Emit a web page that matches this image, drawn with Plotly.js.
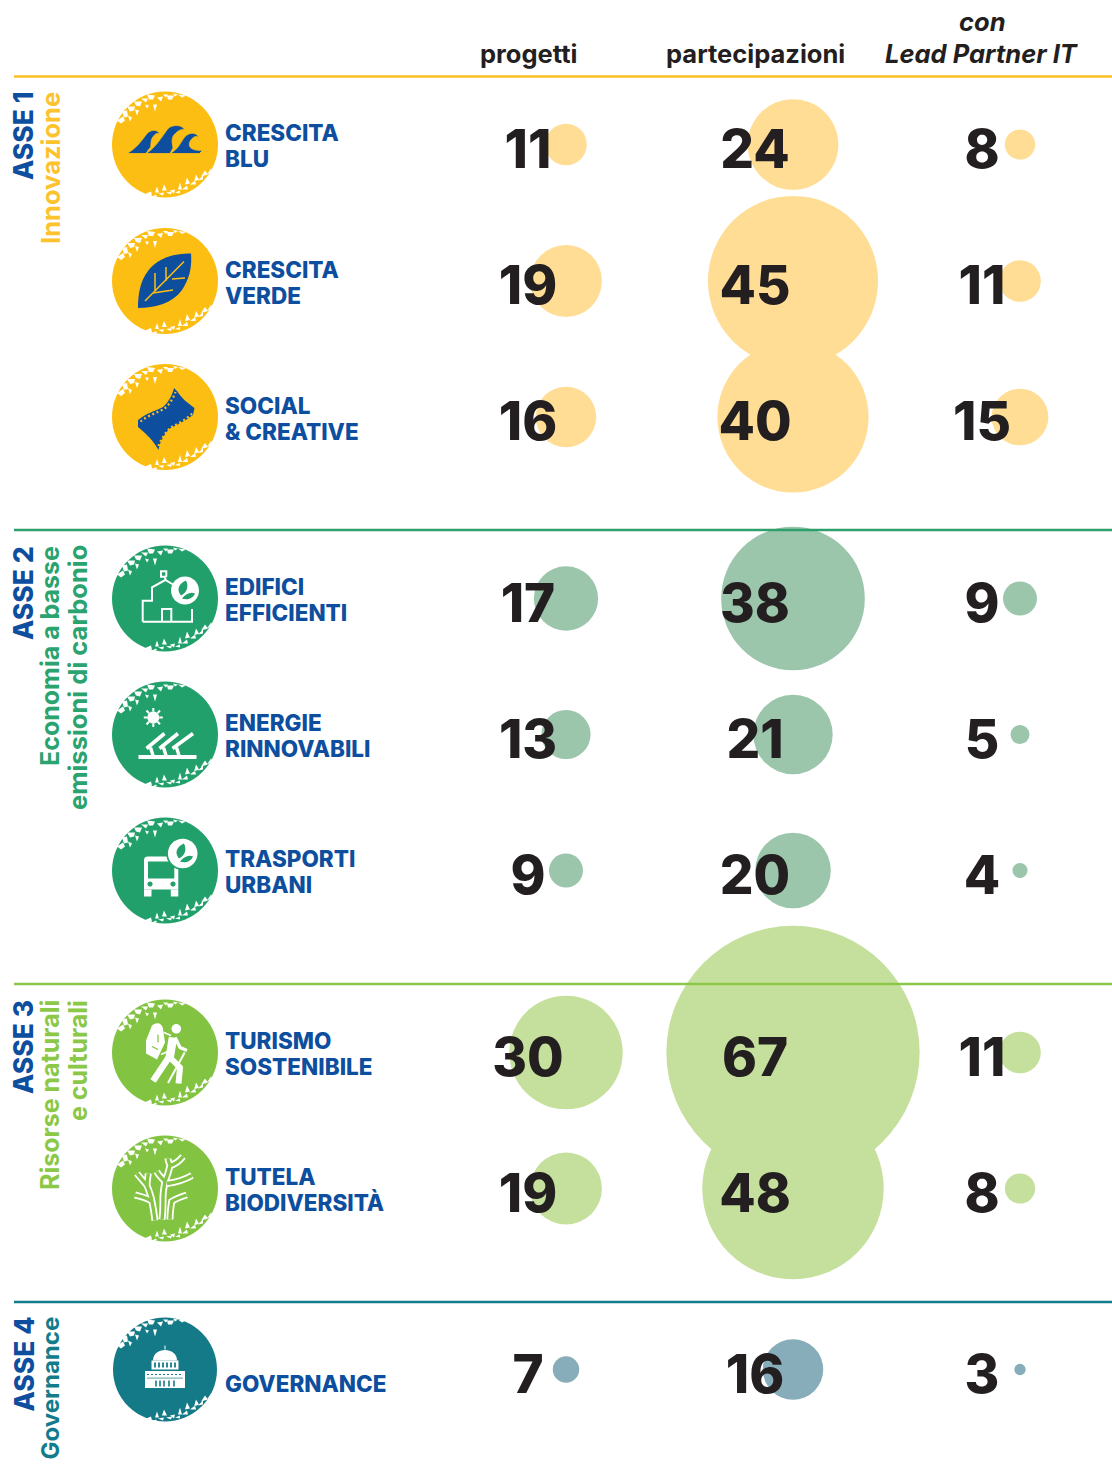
<!DOCTYPE html>
<html><head><meta charset="utf-8">
<script src="https://cdn.plot.ly/plotly-3.0.1.min.js"></script>
<style>html,body{margin:0;padding:0;background:#fff}#c{width:1112px;height:1464px}</style>
</head><body><div id="c"></div>
<script>
// ---- data
const categories = ["CRESCITA BLU","CRESCITA VERDE","SOCIAL & CREATIVE","EDIFICI EFFICIENTI","ENERGIE RINNOVABILI","TRASPORTI URBANI","TURISMO SOSTENIBILE","TUTELA BIODIVERSITÀ","GOVERNANCE"];
const labelLine1 = ["CRESCITA","CRESCITA","SOCIAL","EDIFICI","ENERGIE","TRASPORTI","TURISMO","TUTELA",""];
const labelLine2 = ["BLU","VERDE","& CREATIVE","EFFICIENTI","RINNOVABILI","URBANI","SOSTENIBILE","BIODIVERSITÀ","GOVERNANCE"];
const progetti = [11,19,16,17,13,9,30,19,7];
const partecipazioni = [24,45,40,38,21,20,67,48,16];
const leadPartner = [8,11,15,9,5,4,11,8,3];
const assi = [0,0,0,1,1,1,2,2,3];
const columnTitles = ["progetti","partecipazioni","Lead Partner IT"];

// ---- layout constants
const rowY = [144.5,281,417,598.5,734.5,870.5,1052.5,1188.5,1369.5];
const bubbleX = [566,793,1020];
const numberX = [528,755,982];
const PX_PER_UNIT = 3.78;
const iconCol = ["#FDBE14","#22A06B","#82C341","#157A87"];
const bubbleCol = ["#FFDD95","#9CC6AB","#C5E09C","#88ADBA"];
const lineCol = ["#FFC226","#2FA06C","#8CC847","#137C8B"];
const subCol = ["#FDC32F","#2AA36F","#8CC847","#137C8B"];
const BLUE = "#0E4E9E", INK = "#231F20", FONT = "Inter, 'Noto Sans', sans-serif";

// ---- helpers
const place = (cx,cy,p) => p.replace(/(-?[\d.]+)\s+(-?[\d.]+)/g,(m,a,b)=>(+a+cx).toFixed(2)+" "+(+b+cy).toFixed(2));
const disc = (x,y,r)=>{const k=r*0.5523;return `M${x-r} ${y} C${x-r} ${y-k} ${x-k} ${y-r} ${x} ${y-r} C${x+k} ${y-r} ${x+r} ${y-k} ${x+r} ${y} C${x+r} ${y+k} ${x+k} ${y+r} ${x} ${y+r} C${x-k} ${y+r} ${x-r} ${y+k} ${x-r} ${y} Z`;};
const box = (a,b,c,d)=>`M${a} ${b} L${c} ${b} L${c} ${d} L${a} ${d} Z`;
const badgeLeaves = (x,y)=>`M${x-3} ${y+5} C${x-8} ${y-1} ${x-5} ${y-7} ${x+2} ${y-10} C${x+5} ${y-4} ${x+3} ${y+2} ${x-3} ${y+5} Z M${x-2} ${y+8} C${x+2} ${y+3} ${x+7} ${y+1} ${x+11} ${y+3} C${x+9} ${y+8} ${x+3} ${y+10} ${x-2} ${y+8} Z`;
const fill=(path,c)=>({path,fill:c});
const stroke=(path,c,w,dash)=>({path,stroke:c,w,dash});
const Y=iconCol[0],G=iconCol[1],L=iconCol[2],T=iconCol[3],W="#ffffff";

// worn-paint flecks along the rim of each icon disc
const flecks = ["M-48 -24 L-42 -28 L-40 -24 L-44 -21 Z","M-43 -33 L-38 -34 L-37 -28 L-41 -27 Z","M-37 -29 L-33 -27 L-35 -23 Z","M-38 -38 L-30 -38 L-31 -34 L-35 -33 Z","M-30 -35 L-26 -34 L-28 -29 Z",
 "M-31 -43 L-23 -43 L-25 -38 L-29 -39 Z","M-24 -46 L-17 -46 L-19 -42 Z","M-20 -40 L-16 -39 L-18 -36 Z","M-18 -50 L-10 -49 L-12 -45 L-16 -45 Z","M-12 -40 L-8 -40 L-10 -33 Z",
 "M-8 -47 L-2 -48 L-4 -43 Z","M-2 -50 L3 -50 L1 -47 Z","M2 -49 L9 -49 L7 -45 L3 -45 Z","M8 -51 L13 -50 L10 -48 Z","M13 -50 L21 -49 L17 -47 Z",
 "M-21 50 L-14 47 L-13 51 L-19 52 Z","M-15 53 L-9 50 L-8 52 Z","M-10 48 L-8 42 L-6 48 Z","M-7 49 L-1 48 L-2 51 Z","M-3 46 L-1 40 L2 46 Z","M1 48 L7 47 L6 50 Z","M5 46 L10 45 L9 49 Z","M10 48 L15 46 L15 49 Z",
 "M13 45 L15 38 L17 45 Z","M17 45 L22 41 L23 45 Z","M20 40 L22 33 L25 39 Z","M25 40 L30 36 L31 40 Z","M29 37 L31 30 L34 35 Z","M33 36 L38 31 L38 35 Z","M36 32 L40 26 L43 30 Z","M42 30 L46 24 L48 27 Z"];
const shardPath = flecks.join(" ");

const wave=(lx,tx,ty,px,py,hx,hy,bx)=>`M${lx} 9 C${lx+9} 4 ${tx-13} ${ty+12} ${tx-7} ${ty+4} C${tx-3} ${ty} ${px-3} ${py-6} ${px} ${py} C${px-3} ${py-2} ${hx+3} ${hy-5} ${hx} ${hy} C${hx-2} ${hy+5} ${hx} ${hy+9} ${bx+3} ${(hy+9)/2+3} L${bx} 9 Z`;
const coral="M-10 32 C-11 24 -12 18 -13 13 C-18 9 -24 8 -30 6.5 M-13 13 C-14 7 -16 2 -18 -3 C-21 -7 -25 -11 -28 -15 M-18 -3 C-18 -8 -17 -12 -16.7 -15 M-3 31 C-2 24 -2 16 -2 10 C-2 3 -1 -2 0 -7 C-3 -10 -6 -13 -8.3 -17 M0 -7 C2 -12 4 -18 5 -23 C4 -26 3 -28 3 -30 M5 -23 C9 -24 14 -27 18 -32 M2 -5 C10 -6 20 -9 27 -13 M5 31 C5 24 6 18 6.7 13 C11 10 17 8 21.7 6.5";
const icons = [
 [ {path:wave(-38,-11,-15,-5,-10,-13,-6,-19),fill:BLUE,stroke:Y,w:.8},
   {path:wave(-19,10,-20,20,-14.5,8,-8,5),fill:BLUE,stroke:Y,w:.8},
   {path:wave(5,27,-12,34,-7,25,-3,34.5),fill:BLUE,stroke:Y,w:.8} ],
 [ fill("M26 -27.5 C8 -28 -8 -22 -17 -10 C-25 0 -27 14 -27 27 C-10 27 8 22 17 9 C25 -3 27 -15 26 -27.5 Z",BLUE),
   stroke("M-20 20 L19 -19.5 M-10 -8 L-10 10 M1 -14 L1 0 M20 -3 L7 -2 M8 9 L-12 12",Y,1.5) ],
 [ fill("M-27 3 C-20 -3 -10 -6 -2 -10 C3 -14 7 -21 9 -29 L12 -26 C17 -18 23 -14 29.5 -9 L28 -2 C22 3 12 8 5 11.5 C0 16 -5 24 -6.5 33 L-9 29 C-13 22 -20 16 -27 10 Z",BLUE),
   stroke("M-24.5 4.5 C-18 -1 -9 -4 -1 -8 C4 -12 8 -18 10.5 -25",Y,2.2,"2px,2.6px"),
   stroke("M-6.5 29 C-4 22 1 15 6 10 C13 7 22 2 27 -3.5",Y,2.2,"2px,2.6px") ],
 [ stroke("M-22.3 23.2 L-22.3 2.2 L-13 2.2 L-13 -11.2 L0.3 -18.5 L8 -14 M0.3 -18.5 L0.3 -21.8 L-4 -21.8 L-4 -27.2 L1.3 -27.2 L1.3 -21.8 M-22.3 23.2 L27 23.2 L27 10.5 M-3 23.2 L-3 10.5 L6.3 10.5 L6.3 23.2",W,2),
   fill(disc(20,-8,14),W), fill(badgeLeaves(19,-8),G) ],
 [ fill(disc(-11.7,-17,6),W),
   stroke("M-11.7 -26.5 L-11.7 -23 M-11.7 -11 L-11.7 -7.5 M-21.2 -17 L-17.7 -17 M-5.7 -17 L-2.2 -17 M-18.5 -24 L-16 -21.3 M-7.4 -12.7 L-5 -10.2 M-18.5 -10 L-16 -12.7 M-7.4 -21.3 L-5 -24",W,2),
   stroke("M-26.5 22.5 L31.5 22.5",W,4),
   stroke("M-18.5 14 L-0.5 -1 M-5.5 14 L13 -1 M7.5 14 L28 -1",W,3.6),
   stroke("M-14.5 13 L-12 21 M-1.5 13 L1 21 M11.5 13 L14 21",W,3.4) ],
 [ fill("M-17 -14 L9 -14 C12 -14 13.3 -12.5 13.3 -10 L13.3 19 L-21 19 L-21 -10 C-21 -12.5 -20 -14 -17 -14 Z",W),
   fill(box(-21,19,-13.5,26),W), fill(box(5.8,19,13.3,26),W),
   fill(box(-17,-9,9.3,8),G), fill(disc(-15,13.5,2.6),G), fill(disc(8,13.5,2.6),G),
   fill(disc(17.7,-17,16.5),G), fill(disc(17.7,-17,14.8),W), fill(badgeLeaves(17,-17),G) ],
 [ fill(disc(11.3,-23.8,4.8),W),
   fill("M-13 -27 C-8 -31 -3 -29 -2 -24 L0 -10 L-8 7 L-19 1 L-19 -12 Z",W),
   stroke("M-13 -6 L-7 -3 M-7 -18 L-7 -10",L,1.2),
   stroke("M-1 -20 L6 -17 M-4 2 L5 -2",W,1.6),
   stroke("M8 -15 L4.5 6",W,8.5),
   stroke("M3.7 5 L-12 28.5",W,6.5),
   stroke("M5 5 L15 15 L13.5 31",W,6),
   stroke("M10 -15 L15 -5 L22 -2",W,3.4),
   stroke("M19.7 0 L3 30.5",W,2) ],
 [ {path:coral,stroke:W,w:7}, {path:coral,stroke:L,w:3.4} ],
 [ fill("M-12 -9 C-12 -23 12 -23 12 -9 Z",W),
   stroke("M0 -24 L0 -20",W,1),
   fill(box(-13.5,-9,13.5,0),W), fill(box(-20,1.5,20,18.5),W),
   stroke("M-10 -7 L-10 -2 M-6 -7 L-6 -2 M-2 -7 L-2 -2 M2 -7 L2 -2 M6 -7 L6 -2 M10 -7 L10 -2",T,1.8),
   stroke("M-18 5 L18 5",T,1.2,"2px,2px"), stroke("M-18 8.6 L18 8.6",T,.7),
   stroke("M-9 11 L-9 17 M-5 11 L-5 17 M-1 11 L-1 17 M4 11 L4 17 M9 11 L9 17",T,1.6) ]
];

// ---- traces
const traces = [];
traces.push({type:"scatter",mode:"markers",x:rowY.map(()=>165),y:rowY,hoverinfo:"skip",
  marker:{size:rowY.map((y,i)=>assi[i]===3?104:106),color:assi.map(a=>iconCol[a]),line:{width:0},opacity:1}});
[progetti,partecipazioni,leadPartner].forEach((vals,c)=>{
  traces.push({type:"scatter",mode:"markers",x:vals.map(()=>bubbleX[c]),y:rowY,text:categories,
    marker:{size:vals,sizemode:"diameter",sizeref:1/PX_PER_UNIT,sizemin:1,color:assi.map(a=>bubbleCol[a]),line:{width:0},opacity:1}});
});
[progetti,partecipazioni,leadPartner].forEach((vals,c)=>{
  traces.push({type:"scatter",mode:"text",x:vals.map(()=>numberX[c]),y:rowY.map(y=>y+10),text:vals.map(String),
    textposition:"middle center",textfont:{family:FONT,size:53,weight:800,color:INK},hoverinfo:"skip"});
});
traces.push({type:"scatter",mode:"text",x:rowY.map(()=>225),y:rowY.map(y=>y-9),text:labelLine1,
  textposition:"middle right",textfont:{family:FONT,size:22.5,weight:800,color:BLUE},hoverinfo:"skip"});
traces.push({type:"scatter",mode:"text",x:rowY.map(()=>225),y:rowY.map(y=>y+17),text:labelLine2,
  textposition:"middle right",textfont:{family:FONT,size:22.5,weight:800,color:BLUE},hoverinfo:"skip"});

// ---- shapes
const shapes=[];
[76.5,530,984,1302].forEach((y,i)=>shapes.push({type:"line",x0:14,x1:1112,y0:y,y1:y,line:{color:lineCol[i],width:2.5},layer:"above"}));
rowY.forEach((y,i)=>{
  shapes.push({type:"path",path:place(165,y,shardPath),fillcolor:W,line:{width:0}});
  icons[i].forEach(p=>shapes.push({type:"path",path:place(165,y,p.path),
     fillcolor:p.fill||"rgba(0,0,0,0)",line:{color:p.stroke||"rgba(0,0,0,0)",width:p.w||0,dash:p.dash||"solid"}}));
});

// ---- annotations
const ann=[];
const head=(x,y,t,it)=>ann.push({x,y,text:t,showarrow:false,xanchor:"center",yanchor:"middle",
  font:{family:FONT,size:25.5,weight:700,color:INK,style:it?"italic":"normal"}});
head(numberX[0],53,columnTitles[0]); head(numberX[1],53,columnTitles[1]);
head(numberX[2],21,"con",true); head(numberX[2],53,columnTitles[2],true);
const vert=(x,top,t,size,color,weight)=>ann.push({x,y:top,text:t,textangle:-90,showarrow:false,xanchor:"center",yanchor:"top",
  font:{family:FONT,size,weight,color}});
[["ASSE 1",90],["ASSE 2",544],["ASSE 3",998],["ASSE 4",1315]].forEach(a=>vert(23,a[1],a[0],26.5,BLUE,800));
vert(50,90,"Innovazione",25.5,subCol[0],700);
vert(50,544,"Economia a basse",25,subCol[1],700);
vert(77.5,543,"emissioni di carbonio",25.5,subCol[1],700);
vert(50,998,"Risorse naturali",25,subCol[2],700);
vert(77.5,998,"e culturali",25,subCol[2],700);
vert(50,1315,"Governance",24,subCol[3],700);

const axis=r=>({range:r,visible:false,showgrid:false,zeroline:false,fixedrange:true});
Plotly.newPlot("c",traces,{width:1112,height:1464,margin:{l:0,r:0,t:0,b:0},paper_bgcolor:"#fff",plot_bgcolor:"#fff",
  showlegend:false,xaxis:axis([0,1112]),yaxis:axis([1464,0]),shapes,annotations:ann,hovermode:"closest"},{displayModeBar:false});
</script></body></html>
